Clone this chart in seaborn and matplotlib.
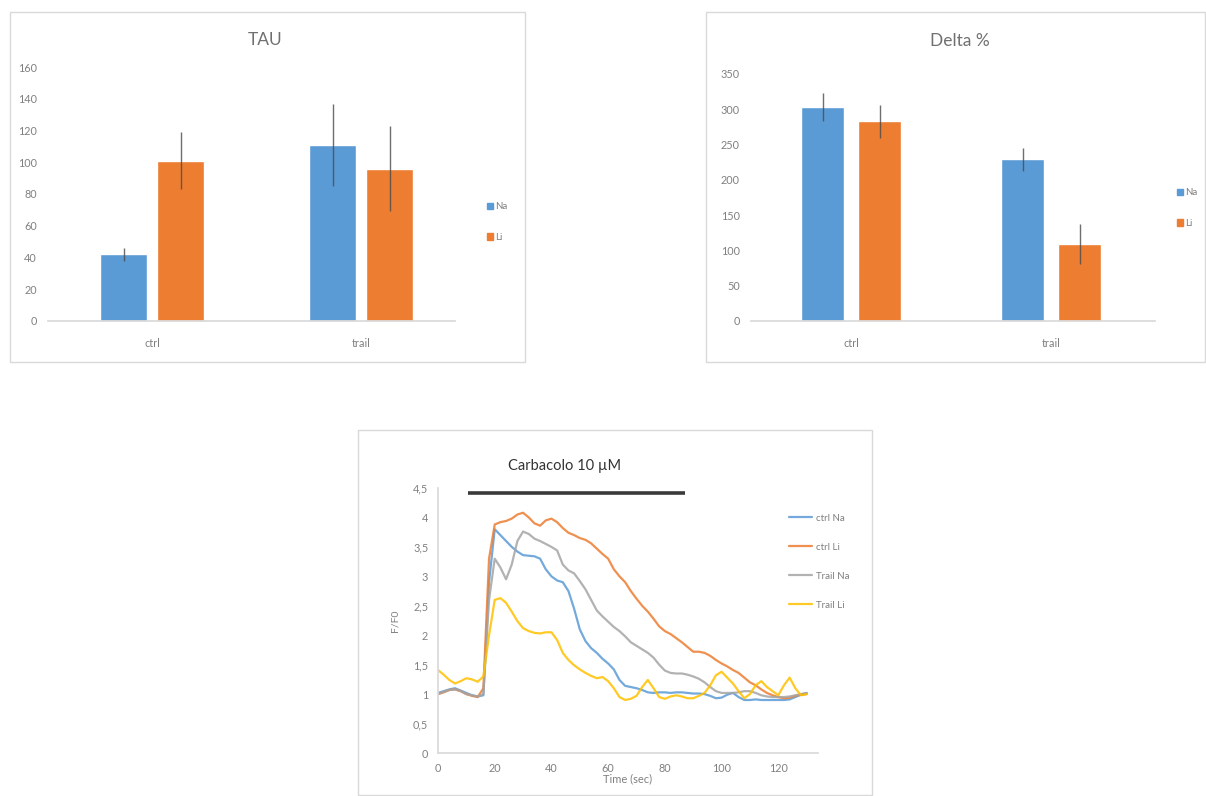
import numpy as np
import pandas as pd
import matplotlib
matplotlib.use("Agg")
import matplotlib.pyplot as plt
from matplotlib.patches import Rectangle
import seaborn as sns

# ---------------- data ----------------
conditions = ["ctrl", "trail"]
ions = ["Na", "Li"]

tau_na = [42, 111]
tau_li = [101, 96]
tau_na_err = [4, 26]
tau_li_err = [18, 27]

delta_na = [303, 229]
delta_li = [283, 109]
delta_na_err = [20, 16]
delta_li_err = [23, 28]

time_s = list(range(0, 131, 2))
ctrl_na = [1.02, 1.05, 1.08, 1.10, 1.06, 1.02, 0.98, 0.96, 0.98, 2.90,
           3.80, 3.70, 3.60, 3.50, 3.42, 3.36, 3.35, 3.34, 3.30, 3.12,
           3.00, 2.93, 2.90, 2.75, 2.45, 2.10, 1.90, 1.78, 1.70, 1.60,
           1.52, 1.42, 1.24, 1.14, 1.12, 1.10, 1.07, 1.03, 1.02, 1.03,
           1.03, 1.02, 1.03, 1.03, 1.02, 1.01, 1.01, 1.00, 0.97, 0.93,
           0.94, 0.99, 1.02, 0.95, 0.90, 0.90, 0.91, 0.90, 0.90, 0.90,
           0.90, 0.90, 0.91, 0.95, 0.99, 1.02]
ctrl_li = [1.00, 1.03, 1.07, 1.08, 1.05, 1.00, 0.97, 0.95, 1.10, 3.30,
           3.88, 3.92, 3.94, 3.98, 4.05, 4.08, 4.00, 3.90, 3.86, 3.95,
           3.98, 3.92, 3.82, 3.74, 3.70, 3.65, 3.62, 3.56, 3.47, 3.38,
           3.30, 3.12, 3.00, 2.90, 2.75, 2.62, 2.50, 2.40, 2.28, 2.15,
           2.07, 2.02, 1.95, 1.88, 1.80, 1.72, 1.72, 1.70, 1.65, 1.58,
           1.52, 1.47, 1.41, 1.36, 1.28, 1.20, 1.15, 1.08, 1.02, 0.98,
           0.95, 0.93, 0.94, 0.97, 0.99, 1.00]
trail_na = [1.00, 1.04, 1.07, 1.08, 1.05, 1.00, 0.98, 0.96, 1.00, 2.60,
            3.30, 3.15, 2.95, 3.20, 3.60, 3.76, 3.72, 3.64, 3.60, 3.55,
            3.50, 3.44, 3.20, 3.10, 3.05, 2.92, 2.78, 2.60, 2.42, 2.32,
            2.23, 2.14, 2.07, 1.98, 1.88, 1.82, 1.76, 1.70, 1.62, 1.50,
            1.40, 1.36, 1.35, 1.35, 1.33, 1.30, 1.26, 1.20, 1.12, 1.05,
            1.02, 1.02, 1.02, 1.03, 1.05, 1.05, 1.02, 0.98, 0.96, 0.95,
            0.95, 0.95, 0.96, 0.98, 1.00, 1.02]
trail_li = [1.41, 1.33, 1.24, 1.18, 1.22, 1.27, 1.25, 1.21, 1.30, 2.00,
            2.60, 2.63, 2.55, 2.40, 2.24, 2.12, 2.07, 2.04, 2.03, 2.05,
            2.05, 1.92, 1.70, 1.58, 1.49, 1.42, 1.36, 1.31, 1.27, 1.29,
            1.22, 1.10, 0.95, 0.90, 0.92, 0.97, 1.12, 1.24, 1.10, 0.95,
            0.92, 0.96, 0.98, 0.96, 0.93, 0.93, 0.97, 1.02, 1.15, 1.32,
            1.38, 1.28, 1.18, 1.05, 0.93, 1.00, 1.15, 1.22, 1.12, 1.05,
            0.98, 1.15, 1.28, 1.10, 0.98, 1.00]
line_labels = ["ctrl Na", "ctrl Li", "Trail Na", "Trail Li"]

y_ticks_bottom = [0, 0.5, 1, 1.5, 2, 2.5, 3, 3.5, 4, 4.5]
y_tick_labels_bottom = ["0", "0,5", "1", "1,5", "2", "2,5", "3", "3,5", "4", "4,5"]
x_ticks_bottom = [0, 20, 40, 60, 80, 100, 120]

# ---------------- style ----------------
sns.set_theme(style="white")
plt.rcParams["font.family"] = ["Lato", "DejaVu Sans"]

BLUE = "#5B9BD5"
ORANGE = "#ED7D31"
GRAY = "#A5A5A5"
YELLOW = "#FFC000"
TXT = "#808080"
AXC = "#D9D9D9"

W, H = 1206, 796
fig = plt.figure(figsize=(W / 100, H / 100), dpi=100)
fig.patch.set_facecolor("white")


def px_axes(x0, y0, x1, y1):
    return fig.add_axes([x0 / W, 1 - y1 / H, (x1 - x0) / W, (y1 - y0) / H])


def panel(x0, y0, x1, y1):
    fig.patches.append(Rectangle((x0 / W, 1 - y1 / H), (x1 - x0) / W, (y1 - y0) / H,
                                 transform=fig.transFigure, facecolor="none",
                                 edgecolor="#D9D9D9", lw=1.0, zorder=-5))


panel(10, 12, 525, 362)
panel(706, 12, 1205, 362)
panel(358, 430, 872, 795)


def bar_panel(ax, na, li, na_err, li_err, ymax, ystep, xmax, width, gap,
              title, title_xy, leg_xy):
    df = pd.DataFrame({
        "cond": conditions * 2,
        "ion": [ions[0]] * 2 + [ions[1]] * 2,
        "value": na + li,
    })
    sns.barplot(data=df, x="cond", y="value", hue="ion", order=conditions,
                hue_order=ions, palette=[BLUE, ORANGE], width=width, gap=gap,
                errorbar=None, legend=False, ax=ax, saturation=1)
    errs = na_err + li_err
    bars = [p for p in ax.patches][:4]
    for b, e in zip(bars, errs):
        ax.errorbar(b.get_x() + b.get_width() / 2, b.get_height(), yerr=e,
                    fmt="none", ecolor="#4a4a4a", elinewidth=1.0, capsize=0, alpha=0.8)
    ax.set_xlim(-0.5, xmax)
    ax.set_ylim(0, ymax)
    ax.set_yticks(np.arange(0, ymax + 1, ystep))
    ax.set_xlabel("")
    ax.set_ylabel("")
    for s in ["top", "right", "left"]:
        ax.spines[s].set_visible(False)
    ax.spines["bottom"].set_color(AXC)
    ax.tick_params(axis="both", length=0, labelsize=7.8, colors=TXT, pad=8)
    ax.tick_params(axis="x", pad=12)
    ax.set_facecolor("none")
    fig.text(title_xy[0] / W, 1 - title_xy[1] / H, title, fontsize=12.5,
             color="#707070", ha="center", va="center")
    handles = [Rectangle((0, 0), 1, 1, color=BLUE), Rectangle((0, 0), 1, 1, color=ORANGE)]
    fig.legend(handles, ions, loc="center left",
               bbox_to_anchor=(leg_xy[0] / W, 1 - leg_xy[1] / H),
               frameon=False, fontsize=7, labelcolor=TXT, handlelength=0.6,
               handleheight=0.6, handletextpad=0.3, labelspacing=2.25)


ax1 = px_axes(48, 67, 455, 321)
bar_panel(ax1, tau_na, tau_li, tau_na_err, tau_li_err, 160, 20, 1.45, 0.546, 0.175,
          "TAU", (265, 40), (478, 222))

ax2 = px_axes(751, 74, 1155, 321)
bar_panel(ax2, delta_na, delta_li, delta_na_err, delta_li_err, 350, 50, 1.52, 0.57, 0.23,
          "Delta %", (960, 41), (1168, 208))

# ---------------- line chart ----------------
ax3 = px_axes(438, 488, 818, 753)
long = pd.DataFrame({
    "time": time_s * 4,
    "value": ctrl_na + ctrl_li + trail_na + trail_li,
    "series": sum([[l] * len(time_s) for l in line_labels], []),
})
sns.lineplot(data=long, x="time", y="value", hue="series", hue_order=line_labels,
             palette=[BLUE, ORANGE, GRAY, YELLOW], lw=1.6, alpha=0.85, ax=ax3,
             legend=True)
ax3.set_xlim(0, 134)
ax3.set_ylim(0, 4.5)
ax3.set_yticks(y_ticks_bottom)
ax3.set_yticklabels(y_tick_labels_bottom)
ax3.set_xticks(x_ticks_bottom)
for s in ["top", "right"]:
    ax3.spines[s].set_visible(False)
for s in ["left", "bottom"]:
    ax3.spines[s].set_color(AXC)
ax3.tick_params(axis="both", length=0, labelsize=7.8, colors=TXT, pad=7)
ax3.set_xlabel("Time (sec)", fontsize=8, color=TXT, labelpad=0)
ax3.set_ylabel("F/F0", fontsize=7.5, color=TXT, labelpad=10)
ax3.set_facecolor("none")
ax3.plot([10.5, 87], [4.41, 4.41], color="#3a3a3a", lw=2.6, clip_on=False,
         solid_capstyle="butt")
fig.text(565 / W, 1 - 466 / H, "Carbacolo 10 µM", fontsize=10.5, color="#333333",
         ha="center", va="center")
h, l = ax3.get_legend_handles_labels()
ax3.legend(h, l, loc="upper left", bbox_to_anchor=(780 / W, 1 - 505 / H),
           bbox_transform=fig.transFigure, frameon=False, fontsize=7,
           labelcolor=TXT, handlelength=2.4, handletextpad=0.4, labelspacing=2.05)

fig.savefig("out.png", dpi=100, facecolor="white")
